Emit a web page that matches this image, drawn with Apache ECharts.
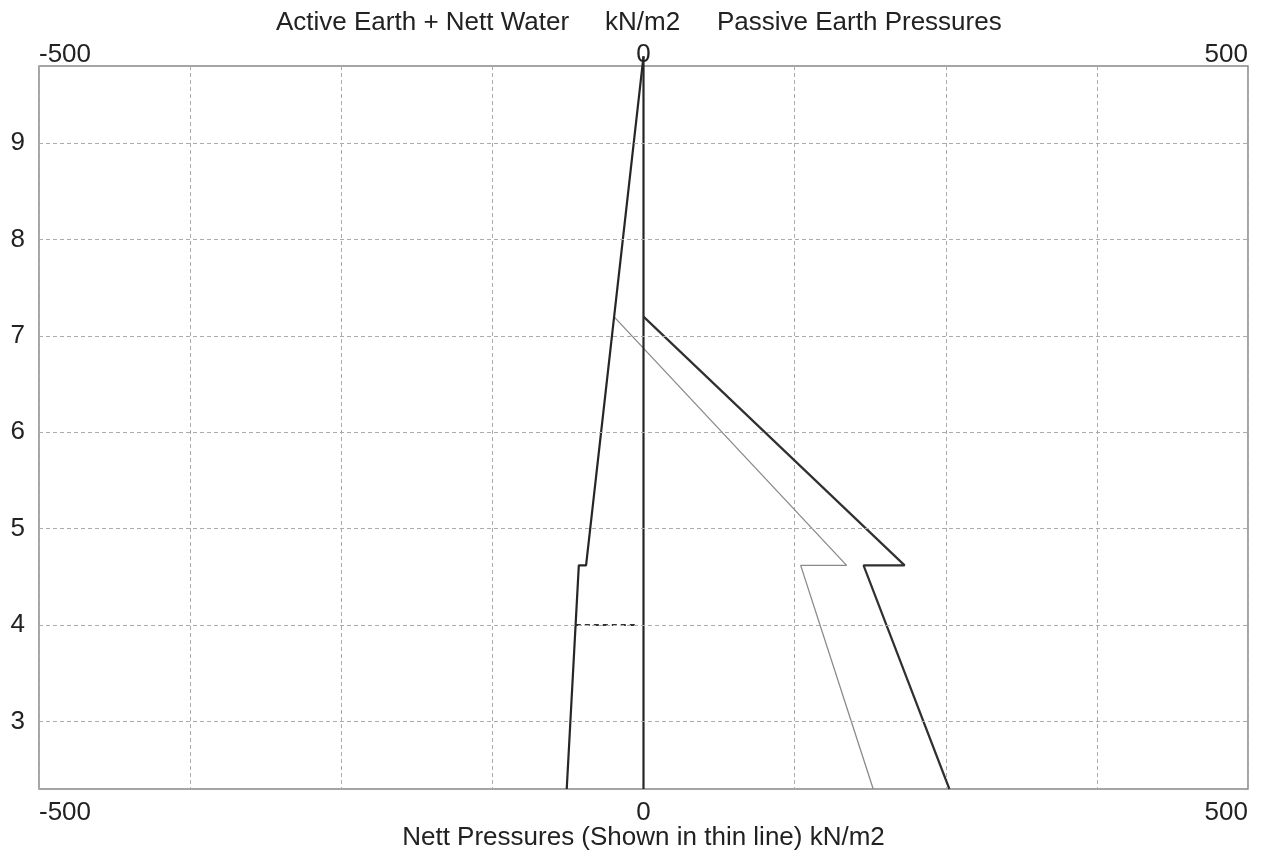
<!DOCTYPE html>
<html><head><meta charset="utf-8">
<script src="https://cdn.jsdelivr.net/npm/echarts@6/dist/echarts.min.js"></script>
<style>html,body{margin:0;padding:0;background:#fff}#c{width:1264px;height:852px}</style>
</head><body><div id="c"></div>
<script>
// ---- data ----
const titleParts = ['Active Earth + Nett Water', 'kN/m2', 'Passive Earth Pressures'];
const xAxisName = 'Nett Pressures (Shown in thin line) kN/m2';
const xLabelValues = [-500, 0, 500];
const yTicks = [3, 4, 5, 6, 7, 8, 9];
const wallLine = [[0, 9.9], [0, 2.3]];
const activeEarth = [[0, 9.9], [-47.5, 4.62], [-53.5, 4.62], [-63.5, 2.3]];
const passiveEarth = [[0, 7.2], [216, 4.62], [182, 4.62], [253, 2.3]];
const nettPressure = [[-24.5, 7.2], [168, 4.62], [130, 4.62], [190, 2.3]];
const waterLevel = [[-56, 4.0], [-5, 4.0]];

const FONT = 'Liberation Sans, Arial, sans-serif';
const FS = 26;
const chart = echarts.init(document.getElementById('c'));
const showX = v => xLabelValues.indexOf(v) >= 0 ? String(v) : '';
const dash = {color: '#ababab', width: 1, type: [4, 3]};
const tStyle = {fontFamily: FONT, fontSize: FS, fontWeight: 'normal', color: '#222'};

chart.setOption({
  animation: false,
  backgroundColor: '#fff',
  title: [
    {text: titleParts[0], left: 271, top: 5, textStyle: tStyle},
    {text: titleParts[1], left: 600, top: 5, textStyle: tStyle},
    {text: titleParts[2], left: 712, top: 5, textStyle: tStyle}
  ],
  grid: {left: 39, right: 16, top: 66, bottom: 63, show: true, borderColor: '#888', borderWidth: 1.5,
         containLabel: false, outerBoundsMode: 'none'},
  xAxis: [
    {type: 'value', position: 'bottom', min: -500, max: 500, interval: 125,
     name: xAxisName, nameLocation: 'middle', nameGap: 36, nameMoveOverlap: false,
     nameTextStyle: {fontFamily: FONT, fontSize: FS, color: '#222'},
     axisLine: {show: false}, axisTick: {show: false},
     axisLabel: {formatter: showX, margin: 11, fontFamily: FONT, fontSize: FS, color: '#222', alignMinLabel: 'left', alignMaxLabel: 'right'},
     splitLine: {show: true, lineStyle: dash}},
    {type: 'value', position: 'top', min: -500, max: 500, interval: 125,
     axisLine: {show: false}, axisTick: {show: false},
     axisLabel: {formatter: showX, margin: -2, fontFamily: FONT, fontSize: FS, color: '#222', alignMinLabel: 'left', alignMaxLabel: 'right'},
     splitLine: {show: false}}
  ],
  yAxis: {type: 'value', min: 2.3, max: 9.8,
    axisLine: {show: false}, axisTick: {show: false, customValues: yTicks},
    axisLabel: {customValues: yTicks, margin: 14, fontFamily: FONT, fontSize: FS, color: '#222'},
    splitLine: {show: false}},
  series: [
    {type: 'line', data: [], silent: true, z: 1,
     markLine: {silent: true, symbol: 'none', label: {show: false}, lineStyle: dash, animation: false,
       data: yTicks.map(v => ({yAxis: v}))}},
    {type: 'line', data: wallLine, symbol: 'none', clip: false, lineStyle: {color: '#262626', width: 2.2}, z: 3},
    {type: 'line', data: activeEarth, symbol: 'none', clip: false, lineStyle: {color: '#262626', width: 2.2}, z: 3},
    {type: 'line', data: passiveEarth, symbol: 'none', clip: false, lineStyle: {color: '#303030', width: 2.2}, z: 3},
    {type: 'line', data: nettPressure, symbol: 'none', clip: false, lineStyle: {color: '#8a8a8a', width: 1.3}, z: 2},
    {type: 'line', data: waterLevel, symbol: 'none', clip: false, lineStyle: {color: '#333', width: 2, type: [5, 4]}, z: 2}
  ]
});
</script></body></html>
